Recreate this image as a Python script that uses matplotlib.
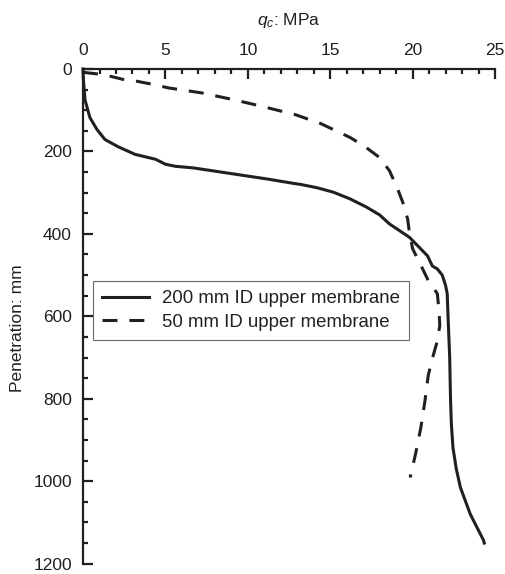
import numpy as np
import matplotlib
matplotlib.use('Agg')
import matplotlib.pyplot as plt

plt.rcParams['font.family'] = ['Liberation Sans', 'DejaVu Sans']
plt.rcParams['mathtext.fontset'] = 'custom'
plt.rcParams['mathtext.it'] = 'Liberation Sans:italic'
plt.rcParams['mathtext.rm'] = 'Liberation Sans'

ink = '#231f20'

# 200 mm ID upper membrane (solid)
q_200 = [0, 0.03, 0.12, 0.42, 0.85, 1.33, 2.1, 3.15, 4.4, 5.0, 5.6, 6.7, 8.2,
         9.7, 11.2, 12.7, 13.2, 14.2, 15.2, 16.2, 17.2, 18.0, 18.6, 19.8, 20.9,
         21.2, 21.5, 21.8, 22.0, 22.1, 22.15, 22.2, 22.25, 22.3, 22.35, 22.45,
         22.65, 22.9, 23.5, 24.3, 24.35]
z_200 = [0, 30, 75, 118, 147, 171, 188, 207, 219, 231, 236, 240, 249,
         258, 267, 277, 280, 288, 299, 315, 335, 354, 376, 408, 453,
         478, 485, 500, 525, 545, 600, 650, 700, 798, 860, 919,
         970, 1015, 1080, 1143, 1150]

# 50 mm ID upper membrane (dashed)
q_50 = [0, 1.3, 2.4, 3.3, 4.2, 5.2, 7.2, 9.2, 11.0, 12.9, 14.4, 15.2, 16.2, 17.1,
        18.0, 18.6, 19.1, 19.4, 19.7, 19.8, 20.0, 20.45, 20.9, 21.5, 21.6, 21.65,
        21.5, 21.2, 20.95, 20.75, 20.5, 20.2, 19.85]
z_50 = [8, 14, 25, 30, 37, 46, 58, 75, 92, 111, 132, 147, 166, 188,
        215, 247, 292, 323, 364, 395, 436, 472, 509, 545, 586, 622,
        660, 702, 743, 805, 870, 930, 991]

fig = plt.figure(figsize=(5.05, 5.74), dpi=100)
ax = fig.add_axes([0.1644, 0.018, 0.8158, 0.8618])

ax.plot(q_200, z_200, color=ink, lw=2.2, label='200 mm ID upper membrane', clip_on=False)
ax.plot(q_50, z_50, color=ink, lw=2.2, dashes=(4.9, 3.9), label='50 mm ID upper membrane', clip_on=False)

ax.set_xlim(0, 25)
ax.set_ylim(1200, 0)
ax.xaxis.set_ticks_position('top')
ax.xaxis.set_label_position('top')
ax.set_xticks(np.arange(0, 26, 5))
ax.set_xticks(np.arange(0, 26, 1), minor=True)
ax.set_yticks(np.arange(0, 1201, 200))
ax.set_yticks(np.arange(0, 1201, 50), minor=True)

for s in ['right', 'bottom']:
    ax.spines[s].set_visible(False)
for s in ['left', 'top']:
    ax.spines[s].set_linewidth(1.6)
    ax.spines[s].set_color(ink)

ax.tick_params(which='major', direction='in', length=7, width=1.6, color=ink,
               labelsize=12.5, labelcolor=ink, pad=8)
ax.tick_params(which='minor', direction='in', length=3.6, width=1.6, color=ink)

ax.set_xlabel('$q_c$: MPa', fontsize=12.5, color=ink, labelpad=13)
ax.set_ylabel('Penetration: mm', fontsize=12.5, color=ink)
ax.yaxis.set_label_coords(-0.14, 0.476)

leg = ax.legend(loc='upper left', bbox_to_anchor=(0.024, 0.572), borderaxespad=0,
                fontsize=13.4, frameon=True, fancybox=False, handlelength=2.5,
                handletextpad=0.7, labelspacing=0.35, borderpad=0.5)
leg.get_frame().set_edgecolor('#444444')
leg.get_frame().set_linewidth(0.8)
for t in leg.get_texts():
    t.set_color(ink)

fig.savefig('out.png', dpi=100)
